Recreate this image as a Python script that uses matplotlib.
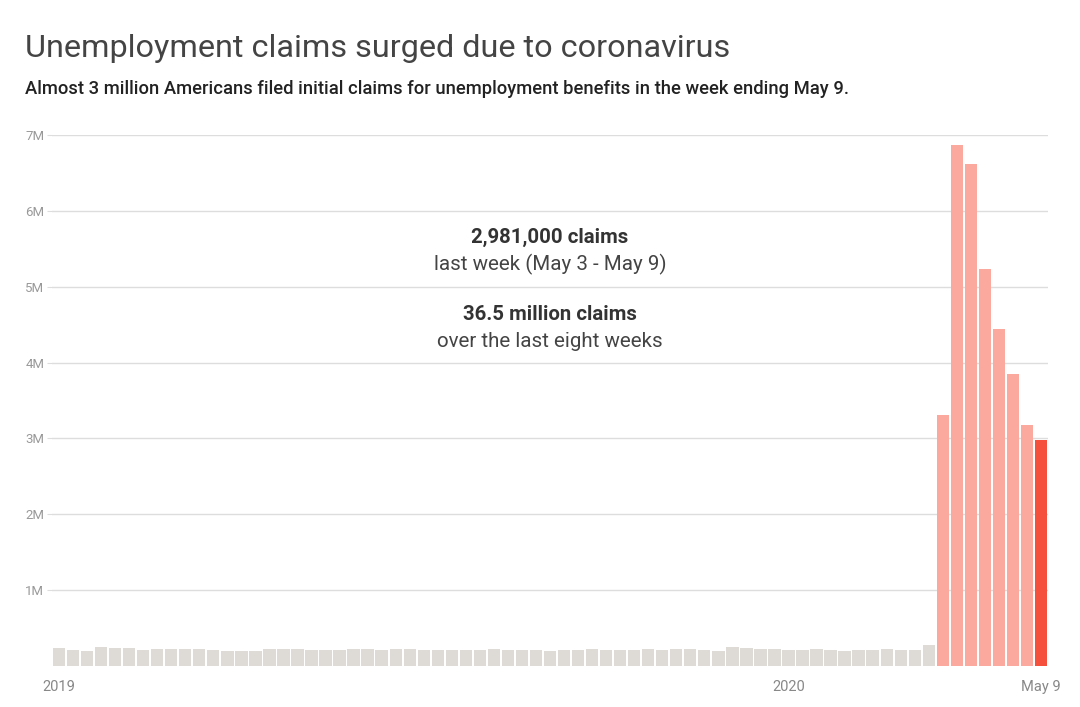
import matplotlib.pyplot as plt
import numpy as np

# weekly initial claims, week ending Jan 5 2019 ... May 9 2020
weeks_2019 = [231, 216, 200, 253, 234, 239, 216, 225, 223, 229, 221, 211, 202,
              196, 192, 230, 230, 228, 212, 211, 215, 218, 222, 216, 227, 221,
              209, 216, 206, 215, 209, 220, 209, 215, 217, 204, 208, 213, 219,
              210, 214, 213, 218, 211, 225, 227, 213, 203, 252, 235, 222, 224]
weeks_2020_pre = [214, 207, 223, 217, 201, 205, 211, 219, 216, 211, 282]
weeks_covid = [3307, 6867, 6615, 5237, 4442, 3846, 3176, 2981]

claims = np.array(weeks_2019 + weeks_2020_pre + weeks_covid) * 1000
n = len(claims)
n_gray = len(weeks_2019) + len(weeks_2020_pre)

tick_pos = [0, len(weeks_2019), n - 1]
tick_labels = ['2019', '2020', 'May 9']
y_ticks = [1e6, 2e6, 3e6, 4e6, 5e6, 6e6, 7e6]
y_labels = ['1M', '2M', '3M', '4M', '5M', '6M', '7M']

GRAY = '#dedbd6'
SALMON = '#fba99e'
RED = '#f5503c'
colors = [GRAY] * n_gray + [SALMON] * (len(weeks_covid) - 1) + [RED]

FONT = 'Roboto'
W, H = 1080, 707

fig = plt.figure(figsize=(W / 100, H / 100), dpi=100)
ax = fig.add_axes([52 / W, (H - 666) / H, (1048 - 52) / W, (666 - 135) / H])

ax.bar(np.arange(n), claims, width=0.88, color=colors, zorder=2)
ax.set_xlim(-0.5, n - 0.5)
ax.set_ylim(0, 7e6)

ax.set_yticks(y_ticks)
ax.set_yticklabels(y_labels, fontsize=9.5, color='#999999', family=FONT)
ax.set_xticks(tick_pos)
ax.set_xticklabels(tick_labels, fontsize=10.5, color='#888888', family=FONT)
ax.tick_params(axis='y', length=3.6, color='#dddddd', pad=2)
ax.tick_params(axis='x', length=0, pad=10)
ax.yaxis.grid(True, color='#dddddd', linewidth=1, zorder=0)
ax.set_axisbelow(True)
for s in ax.spines.values():
    s.set_visible(False)

def px(x, y):
    return x / W, 1 - y / H

fig.text(*px(25, 57), 'Unemployment claims surged due to coronavirus',
         fontsize=23.3, color='#444444', family=FONT, va='baseline', ha='left')
fig.text(*px(25, 94),
         'Almost 3 million Americans filed initial claims for unemployment benefits in the week ending May 9.',
         fontsize=13.2, color='#222222', family=FONT, fontweight='medium',
         va='baseline', ha='left')

fig.text(*px(550, 243), '2,981,000 claims', fontsize=14.7, fontweight='bold',
         color='#333333', family=FONT, ha='center', va='baseline')
fig.text(*px(550, 270), 'last week (May 3 - May 9)', fontsize=14.8,
         color='#444444', family=FONT, ha='center', va='baseline')
fig.text(*px(550, 320), '36.5 million claims', fontsize=14.7, fontweight='bold',
         color='#333333', family=FONT, ha='center', va='baseline')
fig.text(*px(550, 347), 'over the last eight weeks', fontsize=14.8,
         color='#444444', family=FONT, ha='center', va='baseline')

fig.savefig('out.png', dpi=100, facecolor='white')
